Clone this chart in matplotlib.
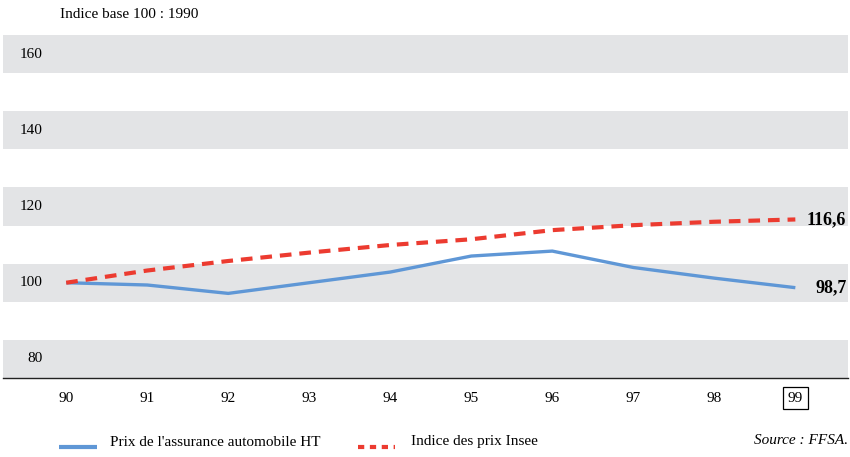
import matplotlib.pyplot as plt
from matplotlib.lines import Line2D

# Indices annuels, base 100 en 1990
annees = [90, 91, 92, 93, 94, 95, 96, 97, 98, 99]
prix_assurance = [100, 99.4, 97.2, 100.0, 102.8, 107.0, 108.3, 104.0, 101.2, 98.7]
prix_insee = [100, 103.2, 105.7, 107.9, 109.9, 111.4, 113.8, 115.1, 116.0, 116.6]
graduations = [80, 100, 120, 140, 160]
series = ["Prix de l'assurance automobile HT", "Indice des prix Insee"]

bleu = "#5f97d6"
rouge = "#ec3b30"
gris = "#e3e4e6"

plt.rcParams["font.family"] = ["Liberation Serif", "DejaVu Serif"]

W, H = 850, 457
fig = plt.figure(figsize=(W / 100, H / 100), dpi=100)
ax = fig.add_axes([3 / W, 79 / H, 845 / W, 343 / H])
ax.set_xlim(89.22, 99.65)
ax.set_ylim(75, 165)

# bandes grises autour de chaque graduation
for g in graduations:
    ax.axhspan(g - 5, g + 5, color=gris, lw=0, zorder=0)
    ax.text(0.047, g, str(g), transform=ax.get_yaxis_transform(),
            ha="right", va="center", fontsize=11)

ax.plot(annees, prix_assurance, color=bleu, lw=2.4,
        solid_capstyle="butt", zorder=3)
ax.plot(annees, prix_insee, color=rouge, lw=3.0, dashes=(2.8, 1.9),
        dash_capstyle="butt", zorder=3)

ax.text(99.63, prix_insee[-1], f"{prix_insee[-1]:.1f}".replace(".", ","),
        ha="right", va="center", fontsize=13, fontweight="bold")
ax.text(99.63, prix_assurance[-1], f"{prix_assurance[-1]:.1f}".replace(".", ","),
        ha="right", va="center", fontsize=13, fontweight="bold")

for s in ["top", "right", "left"]:
    ax.spines[s].set_visible(False)
ax.spines["bottom"].set_color("#222222")
ax.spines["bottom"].set_linewidth(1.0)
ax.set_yticks([])
ax.set_xticks(annees)
ax.set_xticklabels([str(a) for a in annees], fontsize=11)
ax.tick_params(axis="x", length=0, pad=10)
dernier = ax.get_xticklabels()[-1]
dernier.set_bbox(dict(boxstyle="square,pad=0.3", fc="none", ec="black", lw=0.9))

fig.text(60 / W, 1 - 15 / H, "Indice base 100 : 1990", ha="left",
         va="center", fontsize=11)

# légende dessinée à la main sous l'axe
y_leg = 1 - 447 / H
fig.add_artist(Line2D([59 / W, 97 / W], [y_leg, y_leg], color=bleu, lw=3.0,
                      solid_capstyle="butt"))
fig.text(110 / W, 1 - 442 / H, series[0], ha="left", va="center", fontsize=11)
fig.add_artist(Line2D([358 / W, 395 / W], [y_leg, y_leg], color=rouge, lw=3.0,
                      dashes=(1.5, 1.35), dash_capstyle="butt"))
fig.text(411 / W, 1 - 442 / H, series[1], ha="left", va="center", fontsize=11)
fig.text(848 / W, 1 - 441 / H, "Source : FFSA.", ha="right", va="center",
         fontsize=11, style="italic")

fig.savefig("out.png", dpi=100)
